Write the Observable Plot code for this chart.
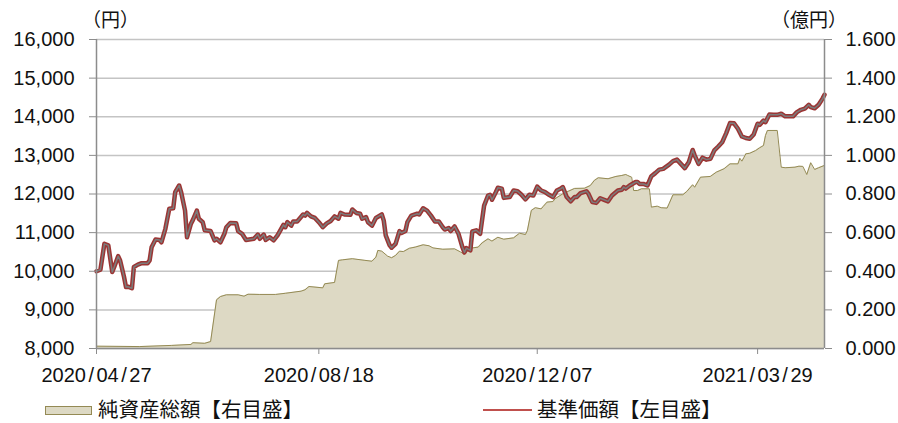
<!DOCTYPE html>
<html>
<head>
<meta charset="utf-8">
<script src="https://cdn.jsdelivr.net/npm/d3@7"></script>
<script src="https://cdn.jsdelivr.net/npm/@observablehq/plot@0.6"></script>
<style>
  body { margin: 0; background: #fff; }
  #wrap { position: relative; width: 898px; height: 423px; color: #111; }
  #head { position: relative; height: 28px; }
  .unit { position: absolute; top: 9px; font-family: "Noto Sans CJK JP", sans-serif; font-size: 19px; line-height: 20px; color: #111; white-space: nowrap; }
  #legend { position: relative; height: 31px; font-family: "Noto Sans CJK JP", sans-serif; font-size: 20.5px; color: #111; }
  .lgtext { position: absolute; top: 0; line-height: 32px; white-space: nowrap; }
  .swArea { position: absolute; left: 45px; top: 14px; width: 45px; height: 7px; background: #ddd9c4; border: 1px solid #948a54; }
  .swLine { position: absolute; left: 483px; top: 17px; width: 49px; height: 2px; background: #c0504d; }
</style>
</head>
<body>
<div id="wrap">
  <div id="head">
    <span class="unit" id="unitL" style="left:82px"></span>
    <span class="unit" id="unitR" style="left:771px"></span>
  </div>
  <div id="chart"></div>
  <div id="legend">
    <div class="swArea"></div>
    <span class="lgtext" id="lgA" style="left:98px"></span>
    <div class="swLine"></div>
    <span class="lgtext" id="lgN" style="left:537px"></span>
  </div>
</div>
<script>
// ---- Texts ----
const unitLeft = "（円）";
const unitRight = "（億円）";
const legendAsset = "純資産総額【右目盛】";
const legendNav = "基準価額【左目盛】";

// ---- Axis ticks ----
const leftTicks = [8000, 9000, 10000, 11000, 12000, 13000, 14000, 15000, 16000];
const rightTicks = [0, 0.2, 0.4, 0.6, 0.8, 1.0, 1.2, 1.4, 1.6];
const xTickDates = ["2020-04-27", "2020-08-18", "2020-12-07", "2021-03-29"];
const xDomain = ["2020-04-27", "2021-05-02"];

// ---- 基準価額 (円, left axis) ----
const navDates = [
"2020-04-27","2020-04-29","2020-05-01","2020-05-03","2020-05-05","2020-05-06","2020-05-08","2020-05-09","2020-05-11","2020-05-12",
"2020-05-13","2020-05-15","2020-05-16","2020-05-18","2020-05-20","2020-05-23","2020-05-24","2020-05-25","2020-05-27","2020-05-29",
"2020-05-30","2020-06-01","2020-06-03","2020-06-05","2020-06-06","2020-06-08","2020-06-09","2020-06-11","2020-06-12","2020-06-14",
"2020-06-15","2020-06-17","2020-06-18","2020-06-20","2020-06-21","2020-06-24","2020-06-26","2020-06-27","2020-06-29","2020-07-01",
"2020-07-02","2020-07-04","2020-07-07","2020-07-08","2020-07-10","2020-07-12","2020-07-16","2020-07-18","2020-07-19","2020-07-21",
"2020-07-22","2020-07-24","2020-07-26","2020-07-28","2020-07-31","2020-08-01","2020-08-02","2020-08-04","2020-08-05","2020-08-07",
"2020-08-10","2020-08-11","2020-08-12","2020-08-14","2020-08-16","2020-08-18","2020-08-20","2020-08-22","2020-08-24","2020-08-26",
"2020-08-28","2020-08-29","2020-08-31","2020-09-03","2020-09-04","2020-09-06","2020-09-08","2020-09-09","2020-09-11","2020-09-12",
"2020-09-14","2020-09-16","2020-09-19","2020-09-20","2020-09-21","2020-09-23","2020-09-24","2020-09-26","2020-09-28","2020-09-29",
"2020-10-01","2020-10-02","2020-10-04","2020-10-07","2020-10-08","2020-10-10","2020-10-12","2020-10-14","2020-10-16","2020-10-18",
"2020-10-20","2020-10-21","2020-10-23","2020-10-24","2020-10-26","2020-10-28","2020-10-30","2020-10-31","2020-11-01","2020-11-03",
"2020-11-04","2020-11-06","2020-11-08","2020-11-10","2020-11-12","2020-11-13","2020-11-14","2020-11-16","2020-11-17","2020-11-19",
"2020-11-20","2020-11-23","2020-11-25","2020-11-27","2020-11-29","2020-12-01","2020-12-03","2020-12-05","2020-12-07","2020-12-09",
"2020-12-11","2020-12-13","2020-12-15","2020-12-17","2020-12-19","2020-12-20","2020-12-22","2020-12-24","2020-12-26","2020-12-27",
"2020-12-29","2021-01-01","2021-01-02","2021-01-04","2021-01-06","2021-01-08","2021-01-10","2021-01-12","2021-01-14","2021-01-17",
"2021-01-19","2021-01-20","2021-01-21","2021-01-23","2021-01-26","2021-01-27","2021-01-28","2021-01-30","2021-02-01","2021-02-03",
"2021-02-05","2021-02-07","2021-02-09","2021-02-12","2021-02-14","2021-02-16","2021-02-18","2021-02-20","2021-02-22","2021-02-24",
"2021-02-25","2021-02-27","2021-03-01","2021-03-03","2021-03-05","2021-03-07","2021-03-09","2021-03-11","2021-03-13","2021-03-15",
"2021-03-17","2021-03-19","2021-03-21","2021-03-23","2021-03-25","2021-03-27","2021-03-29","2021-03-30","2021-04-01","2021-04-02",
"2021-04-04","2021-04-06","2021-04-08","2021-04-10","2021-04-12","2021-04-14","2021-04-16","2021-04-18","2021-04-20","2021-04-22",
"2021-04-24","2021-04-25","2021-04-27","2021-04-29","2021-05-01","2021-05-02"
];
const navValues = [
10000,10040,10710,10670,9980,10110,10390,10280,9850,9590,
9600,9560,10110,10170,10210,10210,10280,10620,10820,10810,
10750,11100,11620,11630,12050,12220,12050,11570,10880,11230,
11330,11570,11360,11270,11060,11040,10800,10840,10750,10970,
11140,11250,11240,11040,10970,10810,10840,10950,10840,10950,
10810,10880,10800,10930,11200,11140,11270,11180,11290,11290,
11470,11440,11510,11420,11380,11270,11140,11240,11300,11420,
11360,11510,11470,11460,11600,11510,11490,11360,11400,11270,
11180,11380,11470,11310,10930,10670,10610,10710,11040,10990,
11040,11270,11440,11490,11470,11630,11570,11440,11290,11290,
11140,11080,11120,11040,11160,10970,10620,10490,10600,10540,
11030,11060,10970,11700,11960,11980,11850,12050,12160,12140,
11900,11920,12090,12070,11980,11860,11980,11960,12190,12090,
12050,11980,11920,12090,12140,12180,11920,11810,11920,11920,
12020,12070,12010,11790,11770,11890,11850,11810,11960,12090,
12110,12180,12140,12220,12310,12310,12260,12260,12220,12460,
12540,12630,12650,12760,12850,12890,12780,12670,12820,13140,
13000,12780,12940,12890,12910,13130,13230,13340,13570,13840,
13830,13690,13490,13450,13430,13540,13820,13790,13900,13860,
14060,14050,14050,14080,14010,14010,14010,14120,14180,14210,
14310,14250,14220,14310,14470,14570
];

// ---- 純資産総額 (億円, right axis) ----
const assetDates = [
"2020-04-27","2020-05-19","2020-06-04","2020-06-14","2020-06-15","2020-06-21","2020-06-24","2020-06-27","2020-06-29","2020-07-02",
"2020-07-08","2020-07-11","2020-07-13","2020-07-19","2020-07-27","2020-08-01","2020-08-09","2020-08-11","2020-08-13","2020-08-20",
"2020-08-21","2020-08-26","2020-08-28","2020-08-30","2020-09-04","2020-09-10","2020-09-14","2020-09-16","2020-09-17","2020-09-19",
"2020-09-22","2020-09-24","2020-09-26","2020-09-28","2020-09-30","2020-10-03","2020-10-06","2020-10-10","2020-10-13","2020-10-15",
"2020-10-20","2020-10-26","2020-10-29","2020-10-31","2020-11-03","2020-11-07","2020-11-09","2020-11-12","2020-11-14","2020-11-17",
"2020-11-20","2020-11-25","2020-11-28","2020-12-01","2020-12-02","2020-12-04","2020-12-06","2020-12-09","2020-12-10","2020-12-12",
"2020-12-15","2020-12-16","2020-12-20","2020-12-23","2020-12-26","2020-12-31","2021-01-03","2021-01-05","2021-01-07","2021-01-12",
"2021-01-16","2021-01-19","2021-01-21","2021-01-22","2021-01-24","2021-01-25","2021-01-27","2021-01-29","2021-02-02","2021-02-03",
"2021-02-06","2021-02-08","2021-02-11","2021-02-12","2021-02-14","2021-02-19","2021-02-21","2021-02-24","2021-02-25","2021-02-28",
"2021-03-05","2021-03-08","2021-03-12","2021-03-15","2021-03-19","2021-03-20","2021-03-21","2021-03-22","2021-03-23","2021-03-25",
"2021-03-28","2021-03-30","2021-04-01","2021-04-02","2021-04-03","2021-04-08","2021-04-10","2021-04-12","2021-04-17","2021-04-19",
"2021-04-21","2021-04-23","2021-04-25","2021-04-27","2021-04-29","2021-05-02"
];
const assetValues = [
0.012,0.010,0.016,0.021,0.030,0.027,0.036,0.252,0.269,0.278,
0.278,0.271,0.281,0.280,0.280,0.286,0.297,0.304,0.321,0.314,
0.335,0.342,0.456,0.459,0.465,0.457,0.452,0.473,0.508,0.504,
0.478,0.470,0.482,0.504,0.502,0.519,0.525,0.537,0.532,0.521,
0.514,0.516,0.500,0.488,0.519,0.525,0.547,0.568,0.556,0.576,
0.566,0.573,0.597,0.590,0.611,0.715,0.729,0.723,0.735,0.758,
0.761,0.775,0.801,0.815,0.829,0.830,0.844,0.870,0.884,0.879,
0.891,0.896,0.901,0.896,0.887,0.818,0.818,0.827,0.827,0.732,
0.737,0.729,0.727,0.749,0.796,0.796,0.813,0.848,0.835,0.887,
0.891,0.913,0.931,0.956,0.956,0.985,0.970,0.988,1.008,1.011,
1.025,1.039,1.051,1.103,1.129,1.129,0.939,0.936,0.939,0.944,
0.943,0.901,0.962,0.927,0.936,0.948
];

// ---- Build ----
document.getElementById("unitL").textContent = unitLeft;
document.getElementById("unitR").textContent = unitRight;
document.getElementById("lgA").textContent = legendAsset;
document.getElementById("lgN").textContent = legendNav;

const parse = d3.utcParse("%Y-%m-%d");
const nav = navDates.map((d, i) => ({date: parse(d), value: navValues[i]}));
const assets = assetDates.map((d, i) => ({date: parse(d), value: assetValues[i]}));

// right axis 0–1.6 億円 shares the frame with left axis 8,000–16,000 円
const lMin = leftTicks[0], lMax = leftTicks[leftTicks.length - 1];
const rMin = rightTicks[0], rMax = rightTicks[rightTicks.length - 1];
const toLeft = v => lMin + (v - rMin) * (lMax - lMin) / (rMax - rMin);
const fromLeft = v => rMin + (v - lMin) * (rMax - rMin) / (lMax - lMin);

const x0 = parse(xDomain[0]), x1 = parse(xDomain[1]);
const axisColor = "#8c8c8c";

const chart = Plot.plot({
  width: 898,
  height: 364,
  marginLeft: 96,
  marginRight: 74,
  marginTop: 11,
  marginBottom: 44,
  style: {fontFamily: "'Liberation Sans', Arial, sans-serif", fontSize: "20px", color: "#111", background: "#fff", overflow: "visible"},
  x: {type: "utc", domain: [x0, x1]},
  y: {domain: [lMin, lMax]},
  marks: [
    Plot.gridY(leftTicks, {stroke: "#c4c4c4", strokeWidth: 1.5, strokeOpacity: 1}),
    Plot.areaY(assets, {x: "date", y1: lMin, y2: d => toLeft(d.value), fill: "#ddd9c4", curve: "linear"}),
    Plot.lineY(assets, {x: "date", y: d => toLeft(d.value), stroke: "#948a54", strokeWidth: 1}),
    Plot.lineY(nav, {x: "date", y: "value", stroke: "#9c3534", strokeWidth: 4.5, strokeLinejoin: "round"}),
    Plot.lineY(nav, {x: "date", y: "value", stroke: "#7c7c7c", strokeWidth: 1.5, strokeLinejoin: "round"}),
    Plot.ruleY([lMin], {stroke: axisColor, strokeWidth: 1.5}),
    Plot.ruleX([x0, x1], {y1: lMin, y2: lMax, stroke: axisColor, strokeWidth: 1.5}),
    Plot.axisY(leftTicks, {anchor: "left", tickSize: 7, tickPadding: 15, tickFormat: d3.format(","), stroke: axisColor, fill: "#111", fontSize: 20, label: null}),
    Plot.axisY(rightTicks.map(toLeft), {anchor: "right", tickSize: 7, tickPadding: 14, tickFormat: d => fromLeft(d).toFixed(3), stroke: axisColor, fill: "#111", fontSize: 20, label: null}),
    Plot.axisX(xTickDates.map(parse), {anchor: "bottom", tickSize: 6, tickPadding: 13, tickFormat: d3.utcFormat("%Y/%m/%d"), stroke: axisColor, fill: "#111", fontSize: 20, label: null})
  ]
});
document.getElementById("chart").appendChild(chart);

// widen the slashes of the date labels a little, like the reference font
const ns = "http://www.w3.org/2000/svg";
chart.querySelectorAll('g[aria-label="x-axis tick label"] text').forEach(t => {
  const s = t.textContent;
  t.textContent = "";
  s.split("/").forEach((part, i) => {
    if (i > 0) {
      const sl = document.createElementNS(ns, "tspan");
      sl.setAttribute("dx", 2.5);
      sl.textContent = "/";
      t.appendChild(sl);
    }
    const p = document.createElementNS(ns, "tspan");
    if (i > 0) p.setAttribute("dx", 2.5);
    p.textContent = part;
    t.appendChild(p);
  });
});
</script>
</body>
</html>
